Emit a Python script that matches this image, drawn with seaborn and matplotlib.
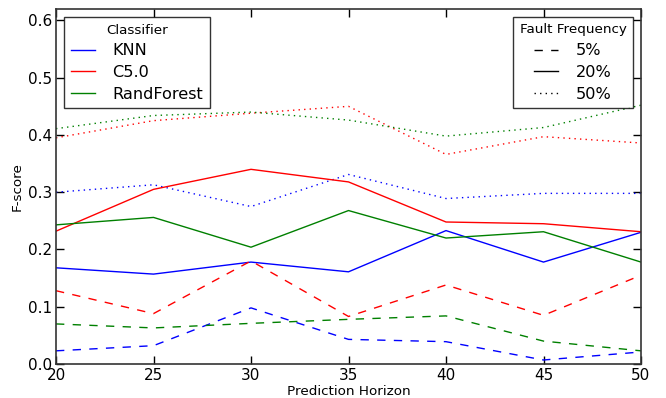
import matplotlib
matplotlib.use("Agg")
import matplotlib.pyplot as plt
import seaborn as sns
import pandas as pd
from matplotlib.lines import Line2D

horizons = [20, 25, 30, 35, 40, 45, 50]
classifiers = ["KNN", "C5.0", "RandForest"]
frequencies = ["5%", "20%", "50%"]

knn_5 = [0.023, 0.032, 0.098, 0.043, 0.039, 0.007, 0.021]
c50_5 = [0.128, 0.088, 0.180, 0.083, 0.138, 0.085, 0.155]
rf_5 = [0.070, 0.063, 0.071, 0.078, 0.084, 0.040, 0.023]

knn_20 = [0.168, 0.157, 0.178, 0.161, 0.233, 0.178, 0.230]
c50_20 = [0.232, 0.305, 0.340, 0.318, 0.248, 0.245, 0.231]
rf_20 = [0.243, 0.256, 0.204, 0.268, 0.220, 0.231, 0.178]

knn_50 = [0.300, 0.313, 0.275, 0.331, 0.289, 0.298, 0.298]
c50_50 = [0.395, 0.425, 0.438, 0.450, 0.366, 0.397, 0.386]
rf_50 = [0.411, 0.434, 0.440, 0.426, 0.398, 0.413, 0.452]

series = {
    ("KNN", "5%"): knn_5, ("C5.0", "5%"): c50_5, ("RandForest", "5%"): rf_5,
    ("KNN", "20%"): knn_20, ("C5.0", "20%"): c50_20, ("RandForest", "20%"): rf_20,
    ("KNN", "50%"): knn_50, ("C5.0", "50%"): c50_50, ("RandForest", "50%"): rf_50,
}
rows = []
for (clf, freq), vals in series.items():
    for h, v in zip(horizons, vals):
        rows.append({"Prediction Horizon": h, "F-score": v, "Classifier": clf, "Fault Frequency": freq})
df = pd.DataFrame(rows)

colors = {"KNN": "#0000ff", "C5.0": "#ff0000", "RandForest": "#008000"}
dashes = {"5%": (6, 6), "20%": "", "50%": (1, 3)}

plt.rcParams["font.family"] = ["DejaVu Sans"]
fig = plt.figure(figsize=(6.66, 3.98), dpi=100)
ax = fig.add_axes([56 / 666, 1 - 364 / 398, (641 - 56) / 666, (364 - 9) / 398])

sns.lineplot(data=df, x="Prediction Horizon", y="F-score", hue="Classifier", style="Fault Frequency",
             palette=colors, dashes=dashes, hue_order=classifiers, style_order=frequencies,
             linewidth=1, ax=ax, legend=False, estimator=None)

ax.set_xlim(20, 50)
ax.set_ylim(0, 0.62)
ax.set_xticks([20, 25, 30, 35, 40, 45, 50])
ax.set_yticks([0.0, 0.1, 0.2, 0.3, 0.4, 0.5, 0.6])
ax.tick_params(direction="in", top=True, right=True, length=6, width=1, labelsize=11, pad=3)
for s in ax.spines.values():
    s.set_linewidth(1.2)
    s.set_color("#333333")
ax.set_xlabel("Prediction Horizon", fontsize=9.7, labelpad=1)
ax.set_ylabel("F-score", fontsize=9.7, labelpad=3)

common = dict(fontsize=11.6, title_fontsize=9.7, frameon=True, fancybox=False, edgecolor="black",
              handlelength=1.5, handletextpad=1.1, labelspacing=0.42, borderaxespad=0.5)

h1 = [Line2D([0], [0], color=colors[c], lw=1) for c in classifiers]
leg1 = ax.legend(h1, classifiers, title="Classifier", loc="upper left", **common)
leg1.get_frame().set_linewidth(1)
ax.add_artist(leg1)

h2 = [Line2D([0], [0], color="black", lw=1, linestyle=ls) for ls in [(0, (6, 6)), "-", (0, (1, 3))]]
leg2 = ax.legend(h2, frequencies, title="Fault Frequency", loc="upper right", **common)
leg2.get_frame().set_linewidth(1)

fig.savefig("out.png", dpi=100)
